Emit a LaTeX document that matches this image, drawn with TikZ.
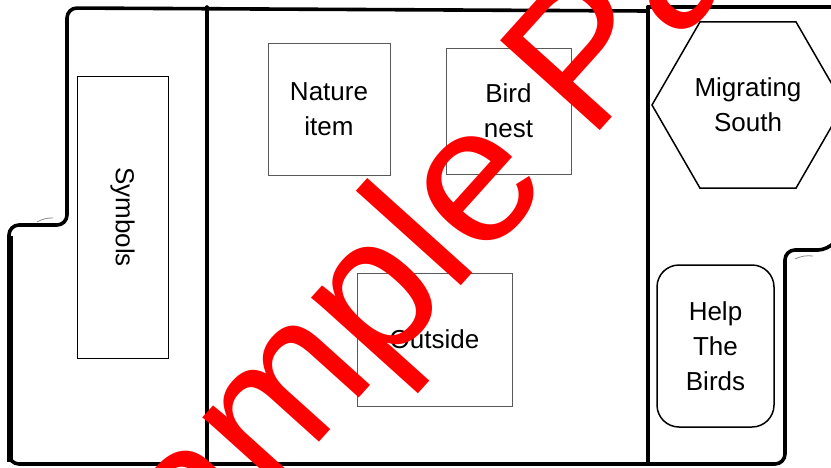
\documentclass[tikz,border=0pt]{standalone}
\usepackage{fontspec}
\setmainfont{Liberation Sans}
\usetikzlibrary{shapes.geometric}
\tikzset{
  fold/.style={line width=3.6pt,line cap=round},
  box/.style={draw=black!65,line width=1pt,inner sep=2pt,align=center,font=\fontsize{26}{35}\selectfont},
  label/.style={align=center,font=\fontsize{26}{35}\selectfont}
}
\begin{document}
\begin{tikzpicture}[x=1pt,y=-1pt]
\clip (0,0) rectangle (831,467);
\fill[white] (0,0) rectangle (831,467);

\draw[fold,rounded corners=10] (648,11) -- (67,8) -- (67,225) -- (9,225) -- (9,464) -- (785,464) -- (785,250) -- (828,250) -- (833,244);
\draw[fold] (648,7) -- (831,7);
\draw[line width=5.5pt] (10,236) -- (10,462);
\draw[fold] (207,7) -- (207,464);
\draw[fold] (648,7) -- (648,464);
\draw[black!45,line width=.8pt] (37,222) to[bend left=15] (53,218);
\draw[black!45,line width=.8pt] (795,259) to[bend left=15] (813,256);

\node[box,draw=black,line width=.8pt,minimum width=91,minimum height=282] (symbols) at (122.5,217) {};
\node[label,rotate=-90] (symbolstext) at (symbols.center) {Symbols};
\node[box,minimum width=122,minimum height=132] (nature) at (329,109) {Nature\\item};
\node[box,minimum width=125,minimum height=126] (nest) at (508.5,111) {Bird\\nest};
\node[box,minimum width=155,minimum height=133] (outside) at (434.5,339.5) {Outside};
\node[box,draw=black,line width=1.5pt,regular polygon,regular polygon sides=6,minimum size=192,inner sep=0pt] (south) at (748,105) {Migrating\\South};
\node[box,draw=black,line width=1.5pt,rounded corners=22,minimum width=117,minimum height=162] (help) at (715.5,346) {Help\\The\\Birds};

% watermark
\node[red,rotate=48,anchor=base,inner sep=0pt,font=\fontsize{195}{195}\selectfont] (wmark) at (503,239) {Sample Page};
\end{tikzpicture}
\end{document}
